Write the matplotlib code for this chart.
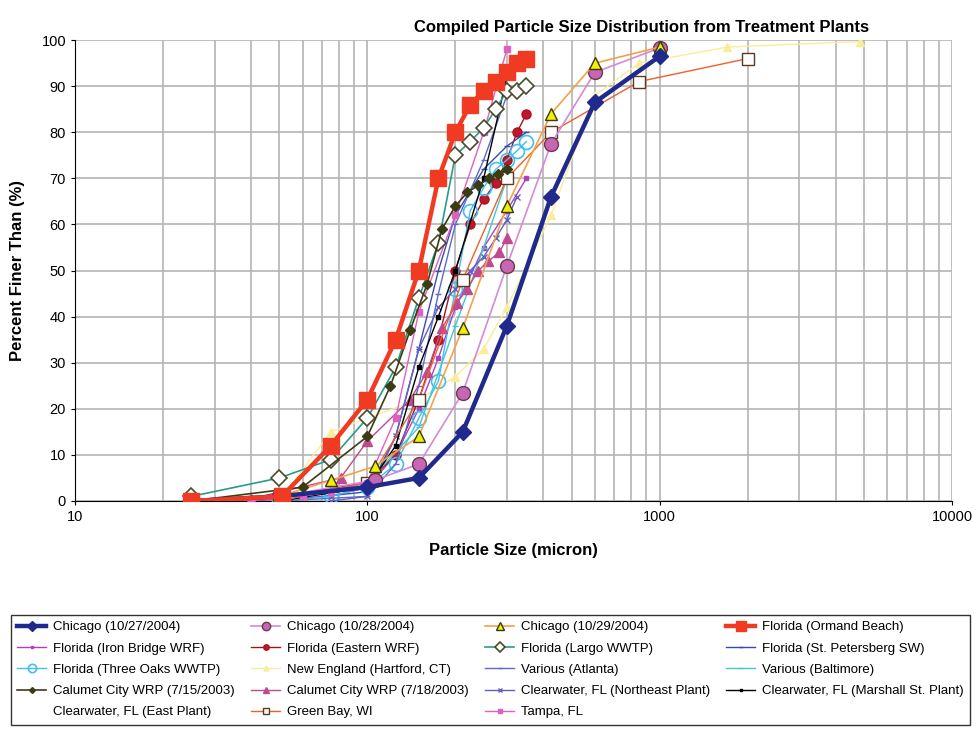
import matplotlib
matplotlib.use("Agg")
import matplotlib.pyplot as plt
from matplotlib.ticker import FixedLocator, NullFormatter

plt.rcParams['font.family'] = ['Liberation Sans', 'DejaVu Sans']

# data (particle size in micron, percent finer)
chi27_x = [25, 50, 100, 150, 212, 300, 425, 600, 1000]
chi27_y = [0, 1, 3, 5, 15, 38, 66, 86.5, 96.5]

chi28_x = [25, 50, 106, 150, 212, 300, 425, 600, 1000]
chi28_y = [0, 1, 4.5, 8, 23.5, 51, 77.5, 93, 98.3]

chi29_x = [25, 50, 75, 106, 150, 212, 300, 425, 600, 1000]
chi29_y = [0, 1, 4.5, 7.5, 14, 37.5, 64, 84, 95, 98.5]

ormand_x = [25, 51, 75, 100, 125, 150, 175, 200, 225, 250, 275, 300, 325, 350]
ormand_y = [0, 1, 12, 22, 35, 50, 70, 80, 86, 89, 91, 93, 95, 96]

ironbridge_x = [40, 75, 100, 125, 150, 175, 200, 250, 300, 350]
ironbridge_y = [0, 1, 3, 10, 20, 31, 42, 55, 63, 70]

eastern_x = [25, 50, 100, 125, 150, 175, 200, 225, 250, 275, 300, 325, 350]
eastern_y = [0, 1, 4, 10, 22, 35, 50, 60, 65.5, 69, 74, 80, 84]

largo_x = [25, 50, 75, 100, 125, 150, 175, 200, 225, 250, 275, 300, 325, 350]
largo_y = [1, 5, 9, 18, 29, 44, 56, 75, 78, 81, 85, 89, 89, 90]

stpete_x = [50, 100, 125, 150, 175, 200, 250, 300, 350]
stpete_y = [0, 2, 14, 33, 50, 62, 72, 77, 80]

threeoaks_x = [50, 75, 100, 125, 150, 175, 200, 225, 250, 275, 300, 325, 350]
threeoaks_y = [0, 1, 3, 8, 18, 26, 46, 63, 68, 72, 74, 76, 78]

newengland_x = [50, 75, 100, 150, 200, 250, 300, 425, 600, 850, 1700, 4850]
newengland_y = [0, 15, 18, 22, 27, 33, 42, 62, 88, 95, 98.5, 99.7]

atlanta_x = [50, 100, 125, 150, 175, 200, 250, 300]
atlanta_y = [0, 1, 8, 25, 45, 60, 74, 88]

baltimore_x = [25, 75, 100, 150, 200, 250, 300]
baltimore_y = [0, 2, 4, 16, 38, 55, 70]

cal715_x = [25, 60, 100, 120, 140, 160, 180, 200, 220, 240, 260, 280, 300]
cal715_y = [0, 3, 14, 25, 37, 47, 59, 64, 67, 68.5, 70, 71, 72]

cal718_x = [25, 40, 81, 100, 140, 160, 180, 203, 219, 240, 259, 283, 300]
cal718_y = [0, 0.5, 5, 13, 22, 28, 37.5, 43, 46, 50, 52, 54, 57]

clearne_x = [75, 100, 125, 150, 175, 200, 225, 250, 275, 300, 325]
clearne_y = [0, 1, 14, 33, 42, 46, 50, 53, 57, 61, 66]

marshall_x = [50, 100, 125, 150, 175, 200, 250, 300]
marshall_y = [0, 3, 12, 29, 40, 50, 70, 92]

cleareast_x = [50, 100, 150, 200, 250, 300]
cleareast_y = [0, 2, 20, 40, 60, 75]

greenbay_x = [50, 100, 150, 212, 300, 425, 850, 2000]
greenbay_y = [0, 4, 22, 48, 70, 80, 91, 96]

tampa_x = [25, 40, 50, 60, 75, 100, 125, 150, 200, 250, 300]
tampa_y = [0, 0, 1, 1, 2, 4, 18, 41, 62, 80, 98]

fig = plt.figure(figsize=(9.77, 7.30), dpi=100)
ax = fig.add_axes([0.0768, 0.3137, 0.8976, 0.6313])

lines = {}
lines['chi27'] = ax.plot(chi27_x, chi27_y, color='#1f2a8c', lw=3.2, marker='D', ms=8,
                         mfc='#1f2a8c', mec='#1f2a8c', zorder=5,
                         label='Chicago (10/27/2004)')[0]
lines['chi28'] = ax.plot(chi28_x, chi28_y, color='#d58ad5', lw=1.2, marker='o', ms=10,
                         mfc='#c865b5', mec='#6a3a4a', zorder=4,
                         label='Chicago (10/28/2004)')[0]
lines['chi29'] = ax.plot(chi29_x, chi29_y, color='#f5a04a', lw=1.2, marker='^', ms=9,
                         mfc='#eeee10', mec='#3a3a00', zorder=4,
                         label='Chicago (10/29/2004)')[0]
lines['ormand'] = ax.plot(ormand_x, ormand_y, color='#f03a22', lw=3.2, marker='s', ms=11,
                          mfc='#f03a22', mec='#f03a22', zorder=6,
                          label='Florida (Ormand Beach)')[0]
lines['ironbridge'] = ax.plot(ironbridge_x, ironbridge_y, color='#b040c0', lw=1.0, marker='s', ms=3.5,
                              mfc='#b040c0', mec='#b040c0', zorder=3,
                              label='Florida (Iron Bridge WRF)')[0]
lines['eastern'] = ax.plot(eastern_x, eastern_y, color='#a81020', lw=1.0, marker='o', ms=6.5,
                           mfc='#c01828', mec='#a81020', zorder=3,
                           label='Florida (Eastern WRF)')[0]
lines['largo'] = ax.plot(largo_x, largo_y, color='#2a9a8a', lw=1.2, marker='D', ms=8,
                         mfc='white', mec='#4a4a2a', mew=1.2, zorder=4,
                         label='Florida (Largo WWTP)')[0]
lines['stpete'] = ax.plot(stpete_x, stpete_y, color='#3a4ab0', lw=1.0, marker='_', ms=5,
                          zorder=3, label='Florida (St. Petersberg SW)')[0]
lines['threeoaks'] = ax.plot(threeoaks_x, threeoaks_y, color='#40bff0', lw=1.0, marker='o', ms=10,
                             mfc='none', mec='#40bff0', mew=1.2, zorder=3,
                             label='Florida (Three Oaks WWTP)')[0]
lines['newengland'] = ax.plot(newengland_x, newengland_y, color='#f8ee9a', lw=1.0, marker='^', ms=6,
                              mfc='#f8ee9a', mec='#f8ee9a', zorder=2,
                              label='New England (Hartford, CT)')[0]
lines['atlanta'] = ax.plot(atlanta_x, atlanta_y, color='#5a6ad0', lw=1.0, marker='_', ms=5,
                           zorder=3, label='Various (Atlanta)')[0]
lines['baltimore'] = ax.plot(baltimore_x, baltimore_y, color='#3ec8d0', lw=1.0, marker='_', ms=5,
                             zorder=3, label='Various (Baltimore)')[0]
lines['cal715'] = ax.plot(cal715_x, cal715_y, color='#3c3c14', lw=1.2, marker='D', ms=5,
                          mfc='#3c3c14', mec='#3c3c14', zorder=4,
                          label='Calumet City WRP (7/15/2003)')[0]
lines['cal718'] = ax.plot(cal718_x, cal718_y, color='#c04a8a', lw=1.0, marker='^', ms=7,
                          mfc='#c04a90', mec='#c04a90', zorder=3,
                          label='Calumet City WRP (7/18/2003)')[0]
lines['clearne'] = ax.plot(clearne_x, clearne_y, color='#6060c0', lw=1.0, marker='x', ms=4,
                           zorder=3, label='Clearwater, FL (Northeast Plant)')[0]
lines['marshall'] = ax.plot(marshall_x, marshall_y, color='black', lw=1.0, marker='s', ms=3,
                            zorder=3, label='Clearwater, FL (Marshall St. Plant)')[0]
lines['cleareast'] = ax.plot(cleareast_x, cleareast_y, color='white', lw=0.8,
                             zorder=2, label='Clearwater, FL (East Plant)')[0]
lines['greenbay'] = ax.plot(greenbay_x, greenbay_y, color='#f0602a', lw=1.0, marker='s', ms=8,
                            mfc='white', mec='#5a3a20', zorder=3,
                            label='Green Bay, WI')[0]
lines['tampa'] = ax.plot(tampa_x, tampa_y, color='#e060c0', lw=1.0, marker='s', ms=5,
                         mfc='#e060c0', mec='#e060c0', zorder=3,
                         label='Tampa, FL')[0]

ax.set_xscale('log')
ax.set_xlim(10, 10000)
ax.set_ylim(0, 100)
ax.set_yticks(range(0, 101, 10))
ax.xaxis.set_major_locator(FixedLocator([10, 100, 1000, 10000]))
ax.set_xticklabels(['10', '100', '1000', '10000'])
ax.xaxis.set_minor_formatter(NullFormatter())
ax.tick_params(axis='both', labelsize=10.5, length=3)
ax.tick_params(axis='x', which='minor', length=0)
ax.grid(True, which='both', axis='x', color='#b4b4b4', lw=1.2)
ax.grid(True, which='major', axis='y', color='#b4b4b4', lw=1.2)
ax.set_axisbelow(True)
for s in ['top', 'right']:
    ax.spines[s].set_visible(False)

ax.set_xlabel('Particle Size (micron)', fontsize=12, fontweight='bold', labelpad=14)
ax.set_ylabel('Percent Finer Than (%)', fontsize=12, fontweight='bold', labelpad=12)
fig.text(0.657, 0.963, 'Compiled Particle Size Distribution from Treatment Plants',
         ha='center', va='center', fontsize=12, fontweight='bold')

# legend is filled column by column, so order handles to read row-wise like the original
order = ['chi27', 'ironbridge', 'threeoaks', 'cal715', 'cleareast',
         'chi28', 'eastern', 'newengland', 'cal718', 'greenbay',
         'chi29', 'largo', 'atlanta', 'clearne', 'tampa',
         'ormand', 'stpete', 'baltimore', 'marshall']
handles = [lines[k] for k in order]
leg = fig.legend(handles, [h.get_label() for h in handles], ncol=4,
                 loc='upper left', bbox_to_anchor=(0.011, 0.0, 0.982, 0.158),
                 mode='expand', fontsize=9.5, frameon=True, fancybox=False,
                 edgecolor='black', borderaxespad=0.0, handlelength=2.2,
                 handletextpad=0.5, labelspacing=0.68, columnspacing=0.8,
                 borderpad=0.5, markerscale=0.6)
leg.get_frame().set_linewidth(1.0)

fig.savefig('out.png', dpi=100)
